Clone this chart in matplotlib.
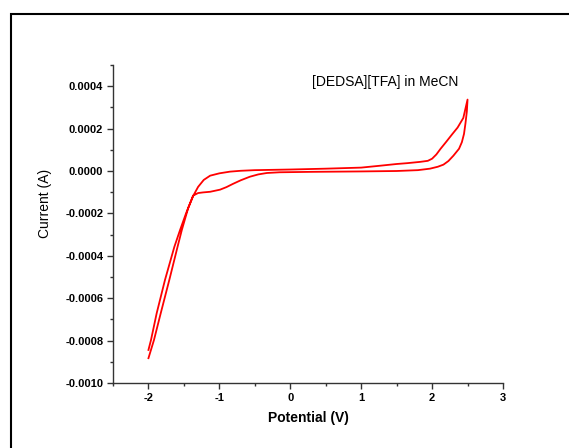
"""
Cyclic voltammogram of [DEDSA][TFA] in MeCN
"""

import matplotlib
matplotlib.use('Agg')
import matplotlib.pyplot as plt
from matplotlib.patches import Rectangle
from matplotlib.ticker import MultipleLocator

plt.rcParams['font.family'] = ['Liberation Sans', 'DejaVu Sans']

# Прямой ход: от -2 В вверх по левой ветви, через "горб" к 2.5 В
potential_fwd = [-2.00, -1.964, -1.884, -1.767, -1.635, -1.555, -1.47, -1.37,
                 -1.30, -1.23, -1.13, -0.99, -0.90, -0.81, -0.70, -0.57,
                 -0.45, -0.33, -0.15, 0.30, 1.00, 1.50, 1.80, 1.97, 2.08,
                 2.16, 2.23, 2.30, 2.38, 2.42, 2.45, 2.47, 2.49, 2.50]
current_fwd = [-0.000844, -0.000797, -0.000671, -0.000514, -0.000358,
               -0.000279, -0.000200, -0.000116, -0.000104, -0.000101,
               -0.000098, -0.000088, -0.000076, -0.000061, -0.000044,
               -0.000027, -0.000016, -0.0000094, -0.000006, -0.000004,
               -0.000002, 0.000000, 0.000004, 0.000011, 0.000020,
               0.000030, 0.000047, 0.000072, 0.000105, 0.000136,
               0.000175, 0.000223, 0.000280, 0.000337]

# Обратный ход: от 2.5 В назад к -2 В
potential_rev = [2.50, 2.44, 2.36, 2.28, 2.20, 2.12, 2.06, 2.00, 1.94, 1.83,
                 1.65, 1.50, 1.27, 1.00, 0.50, 0.00, -0.50, -0.70, -0.85,
                 -1.00, -1.13, -1.22, -1.30, -1.37, -1.44, -1.53, -1.59,
                 -1.706, -1.827, -1.922, -2.00]
current_rev = [0.000337, 0.000250, 0.000205, 0.000172, 0.000138, 0.000105,
               0.000078, 0.000058, 0.000048, 0.000043, 0.000037, 0.000033,
               0.000025, 0.000016, 0.000011, 0.000007, 0.000004, 0.000001,
               -0.000003, -0.000011, -0.000022, -0.000042, -0.000075,
               -0.000118, -0.000175, -0.000279, -0.000358, -0.000514,
               -0.000671, -0.000797, -0.000883]

x_ticks = [-2, -1, 0, 1, 2, 3]
y_ticks = [-0.0010, -0.0008, -0.0006, -0.0004, -0.0002, 0.0000, 0.0002, 0.0004]

fig = plt.figure(figsize=(5.69, 4.48), dpi=100)
ax = fig.add_axes([113 / 569, 65 / 448, 390 / 569, 318 / 448])

ax.plot(potential_fwd + potential_rev, current_fwd + current_rev,
        color='#ff0000', lw=1.3)

ax.set_xlim(-2.5, 3)
ax.set_ylim(-0.0010, 0.0005)
ax.set_xticks(x_ticks)
ax.set_yticks(y_ticks)
ax.set_xticklabels([str(t) for t in x_ticks])
ax.set_yticklabels([f'{t:.4f}' for t in y_ticks])
ax.xaxis.set_minor_locator(MultipleLocator(0.5))
ax.yaxis.set_minor_locator(MultipleLocator(0.0001))

for side in ['top', 'right']:
    ax.spines[side].set_visible(False)
for side in ['left', 'bottom']:
    ax.spines[side].set_color('#333333')
    ax.spines[side].set_linewidth(1.0)

ax.tick_params(which='major', direction='out', length=4.5, width=1.0,
               color='#333333', pad=2.5, labelsize=8)
ax.tick_params(which='minor', direction='out', length=2.5, width=1.0,
               color='#333333')
for lbl in ax.get_xticklabels() + ax.get_yticklabels():
    lbl.set_fontweight('bold')

ax.set_xlabel('Potential (V)', fontsize=10, fontweight='bold', labelpad=6)
ax.set_ylabel('Current (A)', fontsize=10)
ax.yaxis.set_label_coords(-0.156, 0.566)

ax.text(0.30, 0.000419, '[DEDSA][TFA] in MeCN', fontsize=10,
        ha='left', va='center')

# Рамка вокруг всего рисунка (правый и нижний края за пределами)
fig.add_artist(Rectangle((10.5 / 569, -0.2), 1.2, (448 - 13.5) / 448 + 0.2,
                         transform=fig.transFigure, fill=False,
                         lw=1.5, edgecolor='black'))

fig.savefig('out.png', dpi=100)
plt.close(fig)
